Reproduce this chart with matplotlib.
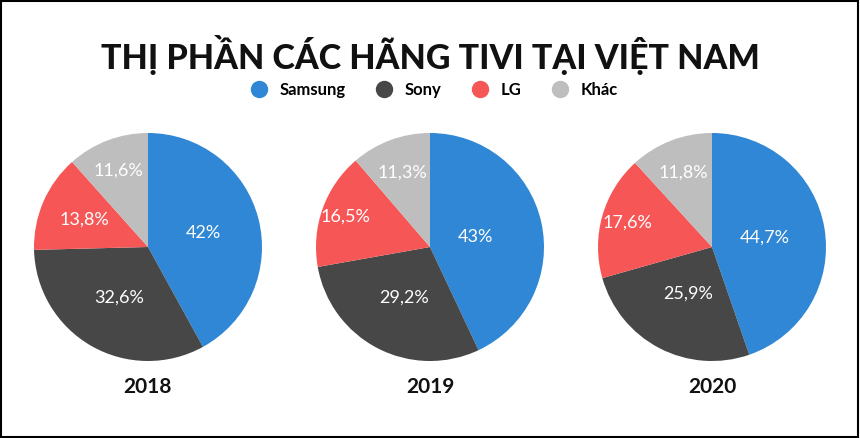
import numpy as np
import matplotlib.pyplot as plt
from matplotlib.lines import Line2D
from matplotlib.patches import Rectangle

# data
years = ['2018', '2019', '2020']
brands = ['Samsung', 'Sony', 'LG', 'Khác']
share_2018 = [42, 32.6, 13.8, 11.6]
share_2019 = [43, 29.2, 16.5, 11.3]
share_2020 = [44.7, 25.9, 17.6, 11.8]
labels_2018 = ['42%', '32,6%', '13,8%', '11,6%']
labels_2019 = ['43%', '29,2%', '16,5%', '11,3%']
labels_2020 = ['44,7%', '25,9%', '17,6%', '11,8%']
colors = ['#2F87D5', '#474747', '#F65656', '#BEBEBE']

# label distance from centre (fraction of radius), placed by hand in the original
dist_2018 = [0.50, 0.51, 0.61, 0.72]
dist_2019 = [0.41, 0.50, 0.79, 0.70]
dist_2020 = [0.47, 0.46, 0.77, 0.70]

plt.rcParams['font.family'] = ['Lato', 'DejaVu Sans']

W, H = 860, 438
fig = plt.figure(figsize=(W / 100, H / 100), dpi=100)
fig.patches.append(Rectangle((0.001, 0.002), 0.997, 0.995, transform=fig.transFigure,
                             fill=False, edgecolor='black', linewidth=1.5))

fig.text(0.5, 1 - 55 / H, 'THỊ PHẦN CÁC HÃNG TIVI TẠI VIỆT NAM', ha='center', va='center',
         fontsize=24.5, fontweight='black', color='#111111')

handles = [Line2D([], [], marker='o', linestyle='none', markersize=11.5,
                  markerfacecolor=c, markeredgecolor=c) for c in colors]
fig.legend(handles, brands, loc='center', bbox_to_anchor=(0.5, 1 - 90 / H), ncol=4,
           frameon=False, handletextpad=0.25, columnspacing=1.3,
           prop={'weight': 'bold', 'size': 12})

all_shares = [share_2018, share_2019, share_2020]
all_labels = [labels_2018, labels_2019, labels_2020]
all_dist = [dist_2018, dist_2019, dist_2020]
centers = [148, 430, 712]
r = 114
cy = 247
for year, vals, labs, dists, cx in zip(years, all_shares, all_labels, all_dist, centers):
    ax = fig.add_axes([(cx - r) / W, 1 - (cy + r) / H, 2 * r / W, 2 * r / H])
    wedges, texts = ax.pie(vals, colors=colors, labels=labs, labeldistance=0.5,
                           startangle=90, counterclock=False, radius=1,
                           textprops={'color': 'white', 'fontsize': 13})
    for w, t, d in zip(wedges, texts, dists):
        ang = np.deg2rad((w.theta1 + w.theta2) / 2)
        t.set_position((d * np.cos(ang), d * np.sin(ang)))
        t.set_ha('center')
        t.set_va('center')
    ax.set_xlim(-1, 1)
    ax.set_ylim(-1, 1)
    ax.set_aspect('equal')
    fig.text(cx / W, 1 - 387 / H, year, ha='center', va='center', fontsize=15,
             fontweight='bold', color='#111111')

fig.savefig('out.png', dpi=100)
